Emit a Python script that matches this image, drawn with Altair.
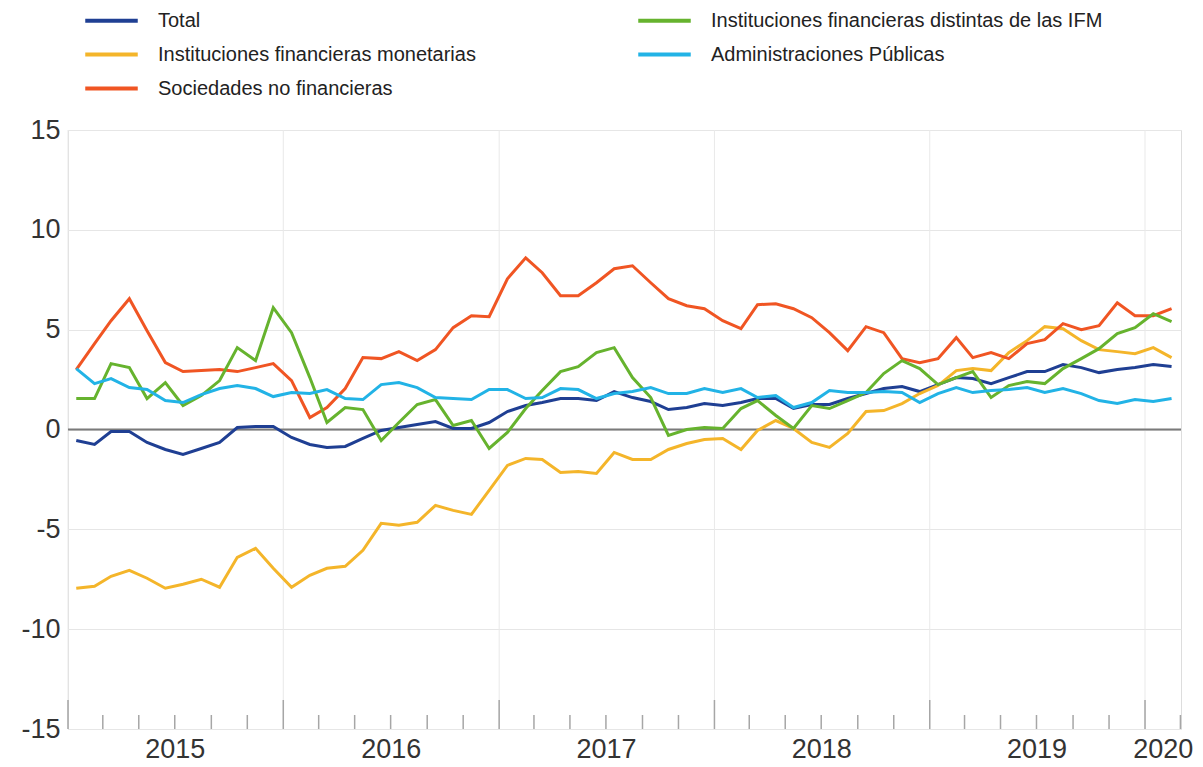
import altair as alt
import pandas as pd

# ---- data ----
START_MONTH = "2015-01"
N_MONTHS = 62

S_TOTAL = "Total"
S_OIF = "Instituciones financieras distintas de las IFM"
S_IFM = "Instituciones financieras monetarias"
S_AAPP = "Administraciones Públicas"
S_SNF = "Sociedades no financieras"

total = [-0.55, -0.75, -0.1, -0.1, -0.65, -1.0, -1.25, -0.95, -0.65, 0.1, 0.15, 0.15,
         -0.4, -0.75, -0.9, -0.85, -0.45, -0.05, 0.1, 0.25, 0.4, 0.05, 0.05, 0.35,
         0.9, 1.2, 1.35, 1.55, 1.55, 1.45, 1.9, 1.6, 1.4, 1.0, 1.1, 1.3,
         1.2, 1.35, 1.55, 1.55, 1.05, 1.25, 1.25, 1.55, 1.8, 2.05, 2.15, 1.9,
         2.25, 2.6, 2.55, 2.3, 2.6, 2.9, 2.9, 3.25, 3.1, 2.85, 3.0, 3.1,
         3.25, 3.15]
ifm = [-7.95, -7.85, -7.35, -7.05, -7.45, -7.95, -7.75, -7.5, -7.9, -6.4, -5.95, -6.95,
       -7.9, -7.3, -6.95, -6.85, -6.05, -4.7, -4.8, -4.65, -3.8, -4.05, -4.25, -3.05,
       -1.8, -1.45, -1.5, -2.15, -2.1, -2.2, -1.15, -1.5, -1.5, -1.0, -0.7, -0.5,
       -0.45, -1.0, -0.05, 0.45, 0.05, -0.65, -0.9, -0.2, 0.9, 0.95, 1.3, 1.8,
       2.2, 2.95, 3.05, 2.95, 3.85, 4.45, 5.15, 5.05, 4.45, 4.0, 3.9, 3.8,
       4.1, 3.6]
snf = [3.0, 4.3, 5.45, 6.55, 4.95, 3.35, 2.9, 2.95, 3.0, 2.9, 3.1, 3.3,
       2.45, 0.6, 1.1, 2.05, 3.6, 3.55, 3.9, 3.45, 4.0, 5.1, 5.7, 5.65,
       7.55, 8.6, 7.85, 6.7, 6.7, 7.35, 8.05, 8.2, 7.35, 6.55, 6.2, 6.05,
       5.45, 5.05, 6.25, 6.3, 6.05, 5.6, 4.85, 3.95, 5.15, 4.85, 3.55, 3.35,
       3.55, 4.6, 3.6, 3.85, 3.55, 4.3, 4.5, 5.3, 5.0, 5.2, 6.35, 5.7,
       5.7, 6.05]
oif = [1.55, 1.55, 3.3, 3.1, 1.55, 2.35, 1.2, 1.7, 2.45, 4.1, 3.45, 6.1,
       4.85, 2.6, 0.35, 1.1, 1.0, -0.55, 0.35, 1.25, 1.5, 0.2, 0.45, -0.95,
       -0.15, 1.05, 1.95, 2.9, 3.15, 3.85, 4.1, 2.6, 1.6, -0.3, 0.0, 0.1,
       0.05, 1.05, 1.45, 0.7, 0.05, 1.2, 1.05, 1.45, 1.85, 2.8, 3.45, 3.05,
       2.25, 2.6, 2.9, 1.6, 2.2, 2.4, 2.3, 3.05, 3.55, 4.05, 4.8, 5.1,
       5.8, 5.4]
aapp = [3.05, 2.3, 2.55, 2.1, 2.0, 1.45, 1.35, 1.75, 2.05, 2.2, 2.05, 1.65,
        1.85, 1.8, 2.0, 1.55, 1.5, 2.25, 2.35, 2.1, 1.6, 1.55, 1.5, 2.0,
        2.0, 1.55, 1.6, 2.05, 2.0, 1.55, 1.8, 1.9, 2.1, 1.8, 1.8, 2.05,
        1.85, 2.05, 1.6, 1.7, 1.1, 1.35, 1.95, 1.85, 1.85, 1.9, 1.85, 1.35,
        1.8, 2.1, 1.85, 1.95, 2.0, 2.1, 1.85, 2.05, 1.8, 1.45, 1.3, 1.5,
        1.4, 1.55]

series_order = [S_TOTAL, S_IFM, S_SNF, S_OIF, S_AAPP]
series_colors = ["#1f3f93", "#f4b52a", "#f05523", "#66b32e", "#22b3e6"]
series_values = {S_TOTAL: total, S_OIF: oif, S_IFM: ifm, S_AAPP: aapp, S_SNF: snf}

year_labels = ["2015", "2016", "2017", "2018", "2019", "2020"]
year_label_dates = ["2015-07-02", "2016-07-02", "2017-07-02", "2018-07-02",
                    "2019-07-02", "2020-02-01"]
year_starts = ["2015-01-01", "2016-01-01", "2017-01-01", "2018-01-01",
               "2019-01-01", "2020-01-01"]
minor_tick_months = [3, 5, 7, 9, 11]
y_ticks = [-15, -10, -5, 0, 5, 10, 15]

# ---- build tables ----
month_starts = pd.date_range(START_MONTH + "-01", periods=N_MONTHS, freq="MS")
dates = [(d + pd.Timedelta(days=14)).strftime("%Y-%m-%dT00:00:00") for d in month_starts]
rows = []
for s in series_order:
    for d, v in zip(dates, series_values[s]):
        rows.append({"date": d, "value": v, "series": s})
df = pd.DataFrame(rows)

years_df = pd.DataFrame({"date": [d + "T00:00:00" for d in year_starts]})
minor_dates = []
for y in range(2015, 2020):
    for m in minor_tick_months:
        minor_dates.append(f"{y}-{m:02d}-01T00:00:00")
minor_dates.append("2020-03-01T00:00:00")
minor_df = pd.DataFrame({"date": minor_dates})
labels_df = pd.DataFrame({"date": [d + "T00:00:00" for d in year_label_dates],
                          "label": year_labels})
zero_df = pd.DataFrame({"value": [0]})

W, H = 1113, 599
FONT = "Liberation Sans, Arial, sans-serif"

xscale = alt.Scale(domain=[alt.DateTime(year=2015, month=1, date=1),
                           alt.DateTime(year=2020, month=3, date=2)])
yscale = alt.Scale(domain=[-15, 15], nice=False)

grid_v = alt.Chart(years_df).mark_rule(color="#e9e9e9", strokeWidth=1).encode(
    x=alt.X("date:T", scale=xscale, axis=None)
)

lines = alt.Chart(df).mark_line(strokeWidth=3).encode(
    x=alt.X("date:T", scale=xscale, axis=None),
    y=alt.Y("value:Q", scale=yscale, title=None,
            axis=alt.Axis(values=y_ticks, grid=True, gridColor="#e6e6e6",
                          domain=False, ticks=False, labelFontSize=27,
                          labelFont=FONT, labelColor="#333333", labelPadding=8,
                          labelExpr="'' + datum.value")),
    color=alt.Color("series:N",
                    scale=alt.Scale(domain=series_order, range=series_colors),
                    sort=series_order,
                    legend=alt.Legend(title=None, orient="none", legendX=24,
                                      legendY=-129, columns=2, direction="vertical",
                                      columnPadding=154, rowPadding=4,
                                      labelFontSize=20, labelFont=FONT,
                                      labelColor="#222222", labelLimit=0,
                                      labelOffset=27,
                                      symbolType="M-1.5,0L1.5,0",
                                      symbolSize=1225, symbolStrokeWidth=4,
                                      padding=0)),
    detail="series:N",
)

zero = alt.Chart(zero_df).mark_rule(color="#7a7a7a", strokeWidth=2).encode(
    y=alt.Y("value:Q", scale=yscale)
)

major_ticks = alt.Chart(years_df).mark_rule(color="#a6a6a6", strokeWidth=1.5).encode(
    x=alt.X("date:T", scale=xscale, axis=None),
    y=alt.value(H - 29), y2=alt.value(H),
)
minor_ticks = alt.Chart(minor_df).mark_rule(color="#a6a6a6", strokeWidth=1.5).encode(
    x=alt.X("date:T", scale=xscale, axis=None),
    y=alt.value(H - 14), y2=alt.value(H),
)
year_text = alt.Chart(labels_df).mark_text(
    fontSize=27, font=FONT, color="#333333", baseline="middle", align="center"
).encode(
    x=alt.X("date:T", scale=xscale, axis=None),
    y=alt.value(H + 21),
    text="label:N",
)

chart = alt.layer(grid_v, zero, lines, major_ticks, minor_ticks, year_text).properties(
    width=W, height=H,
    autosize=alt.AutoSizeParams(type="none"),
    padding={"left": 60, "top": 122, "right": 14, "bottom": 37},
).configure_view(stroke=None).configure(background="white")

chart.save("out.html", embed_options={"renderer": "svg", "actions": False})
